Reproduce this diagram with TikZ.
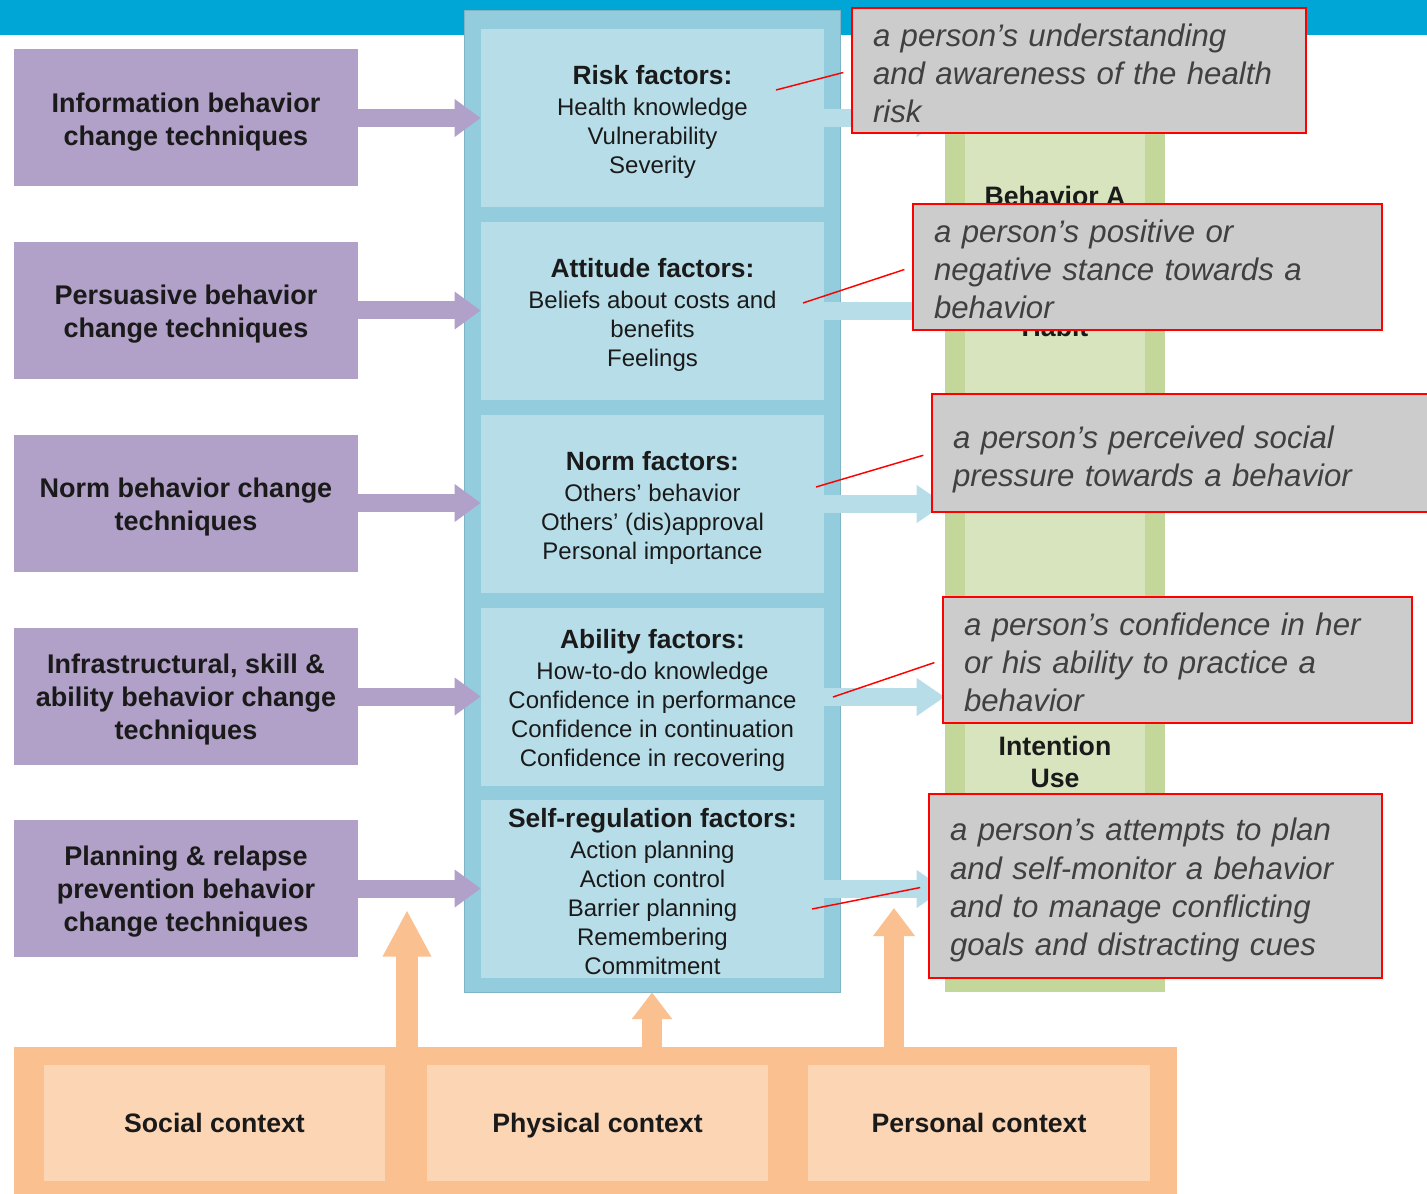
\documentclass[tikz,border=0pt]{standalone}
\usepackage{fontspec}
\setmainfont{Liberation Sans}
\usetikzlibrary{arrows.meta}
\definecolor{topbar}{HTML}{00A7D6}
\definecolor{blueout}{HTML}{93CDDD}
\definecolor{blueedge}{HTML}{7FB3C6}
\definecolor{bluein}{HTML}{B7DEE8}
\definecolor{purp}{HTML}{B1A0C7}
\definecolor{greenout}{HTML}{C4D79B}
\definecolor{greenin}{HTML}{D7E4BD}
\definecolor{orout}{HTML}{FAC090}
\definecolor{orin}{HTML}{FCD5B5}
\definecolor{greyc}{HTML}{CCCCCC}
\definecolor{redc}{HTML}{FF0000}
\definecolor{txt}{HTML}{1A1A1A}
\definecolor{gtxt}{HTML}{404040}
\begin{document}
\begin{tikzpicture}[x=0.75pt,y=-0.75pt,
  purplebox/.style={fill=purp, minimum width=258pt, minimum height=102.75pt, inner sep=0pt},
  purpletext/.style={align=center, text=txt, inner sep=0pt, font=\bfseries\fontsize{20.25}{24.75}\selectfont},
  factor/.style={fill=bluein, minimum width=257.25pt, minimum height=133.5pt, inner sep=0pt},
  factortext/.style={align=center, text=txt, inner sep=0pt, font=\fontsize{18}{21.75}\selectfont},
  ctxbox/.style={fill=orin, minimum height=87pt, inner sep=0pt, text=txt,
    text height=14pt, text depth=0.5pt, font=\bfseries\fontsize{20}{24}\selectfont},
  gtext/.style={text=txt, font=\bfseries\fontsize{20}{24}\selectfont, anchor=base},
  gbox/.style={fill=greyc, draw=redc, line width=1.5pt, inner sep=0pt},
  gboxtext/.style={inner xsep=15.75pt, inner ysep=0pt, align=left, text=gtxt,
    font=\itshape\fontsize{23.4}{28.6}\selectfont},
  parrow/.style={draw=purp, line width=13.5pt, -{Triangle[length=19.5pt,width=27pt]}},
  barrow/.style={draw=bluein, line width=13.5pt, -{Triangle[length=21pt,width=27pt]}},
  redline/.style={draw=redc, line width=1.1pt, shorten >=6pt},
]
\useasboundingbox (0,0) rectangle (1427,1194);
\fill[white] (0,0) rectangle (1427,1194);
% top bar
\node[fill=topbar, minimum width=1070.25pt, minimum height=26.25pt, inner sep=0pt, anchor=north west] (bar) at (0,0) {};

% green column
\node[fill=greenout, minimum width=165pt, minimum height=736.5pt, inner sep=0pt] (gcol) at (1055,501) {};
\node[fill=greenin, minimum width=135pt, minimum height=711.75pt, inner sep=0pt] (gin) at (1055,503.5) {};
\node[gtext] (gA) at (1055,206) {Behavior A};
\node[gtext] (gH) at (1055,337) {Habit};
\node[gtext] (gI) at (1055,755) {Intention};
\node[gtext] (gU) at (1055,787) {Use};

% blue column
\node[fill=blueout, draw=blueedge, line width=0.6pt, minimum width=282pt, minimum height=736.5pt, inner sep=0pt] (bcol) at (652,501) {};
\node[factor] (f1) at (652.5,118) {};
\node[factor] (f2) at (652.5,311) {};
\node[factor] (f3) at (652.5,504) {};
\node[factor] (f4) at (652.5,697) {};
\node[factor] (f5) at (652.5,889) {};
\node[factortext] (f1t) at (652.5,121.5) {{\bfseries\fontsize{19.8}{23}\selectfont Risk factors:}\\[1.5pt]Health knowledge\\Vulnerability\\Severity};
\node[factortext] (f2t) at (652.5,314.5) {{\bfseries\fontsize{19.8}{23}\selectfont Attitude factors:}\\[1.5pt]Beliefs about costs and\\benefits\\Feelings};
\node[factortext] (f3t) at (652.5,507.5) {{\bfseries\fontsize{19.8}{23}\selectfont Norm factors:}\\[1.5pt]Others' behavior\\Others' (dis)approval\\Personal importance};
\node[factortext] (f4t) at (652.5,700) {{\bfseries\fontsize{19.8}{23}\selectfont Ability factors:}\\[1.5pt]How-to-do knowledge\\Confidence in performance\\Confidence in continuation\\Confidence in recovering};
\node[factortext] (f5t) at (652.5,892) {{\bfseries\fontsize{19.8}{23}\selectfont Self-regulation factors:}\\[1.5pt]Action planning\\Action control\\Barrier planning\\Remembering\\Commitment};

% blue arrows to green column
\foreach \f in {f1,f2,f3,f4,f5}
  \draw[barrow] (\f.east) -- (\f.east -| gcol.west);

% purple boxes
\node[purplebox] (t1) at (186,118) {};
\node[purplebox] (t2) at (186,310.5) {};
\node[purplebox] (t3) at (186,503) {};
\node[purplebox] (t4) at (186,696.5) {};
\node[purplebox] (t5) at (186,888.5) {};
\node[purpletext] (t1t) at (186,122) {Information behavior\\change techniques};
\node[purpletext] (t2t) at (186,314.5) {Persuasive behavior\\change techniques};
\node[purpletext] (t3t) at (186,507) {Norm behavior change\\techniques};
\node[purpletext] (t4t) at (186,699.5) {Infrastructural, skill \&\\ability behavior change\\techniques};
\node[purpletext] (t5t) at (186,892) {Planning \& relapse\\prevention behavior\\change techniques};
\draw[parrow] (t1.east) -- (t1.east -| f1.west);
\draw[parrow] (t2.east) -- (t2.east -| f2.west);
\draw[parrow] (t3.east) -- (t3.east -| f3.west);
\draw[parrow] (t4.east) -- (t4.east -| f4.west);
\draw[parrow] (t5.east) -- (t5.east -| f5.west);

% context band
\node[fill=orout, minimum width=872.25pt, minimum height=114.75pt, inner sep=0pt] (ctx) at (595.5,1123.5) {};
\node[ctxbox, minimum width=255.75pt] (social) at (214.5,1123) {Social context};
\node[ctxbox, minimum width=255.75pt] (physical) at (597.5,1123) {Physical context};
\node[ctxbox, minimum width=256.5pt] (personal) at (979,1123) {Personal context};
\coordinate (u1) at (407,910);
\coordinate (u3) at (894,908);
\draw[draw=orout, line width=16.5pt, -{Triangle[length=35pt,width=34pt]}] (ctx.north -| u1) -- (u1);
\draw[draw=orout, line width=14.5pt, -{Triangle[length=20pt,width=29pt]}] (ctx.north -| bcol.south) -- (bcol.south);
\draw[draw=orout, line width=15pt, -{Triangle[length=21pt,width=30pt]}] (ctx.north -| u3) -- (u3);

% grey annotation boxes
\node[gbox, minimum width=340.5pt, minimum height=93.75pt] (g1) at (1079,70.5) {};
\node[gbox, minimum width=351.75pt, minimum height=94.5pt] (g2) at (1147.5,267) {};
\node[gbox, minimum width=381pt, minimum height=88.5pt] (g3) at (1186,453) {};
\node[gbox, minimum width=351.75pt, minimum height=94.5pt] (g4) at (1177.5,660) {};
\node[gbox, minimum width=339.75pt, minimum height=138pt] (g5) at (1155.5,886) {};
\node[gboxtext, text width=309pt] (g1t) at (1079,73)
  {a person’s understanding\\and awareness of the health\\risk};
\node[gboxtext, text width=320.25pt] (g2t) at (1147.5,269.5)
  {a person’s positive or\\negative stance towards a\\behavior};
\node[gboxtext, text width=349.5pt] (g3t) at (1186,459)
  {a person’s perceived social\\pressure towards a behavior};
\node[gboxtext, text width=320.25pt] (g4t) at (1177.5,662.5)
  {a person’s confidence in her\\or his ability to practice a\\behavior};
\node[gboxtext, text width=308.25pt] (g5t) at (1155.5,890)
  {a person’s attempts to plan\\and self-monitor a behavior\\and to manage conflicting\\goals and distracting cues};

% red pointer lines
\coordinate (r1) at (776,90);
\coordinate (r2) at (803,303);
\coordinate (r3) at (816,487);
\coordinate (r4) at (833,697);
\coordinate (r5) at (812,909);
\draw[redline] (r1) -- (g1.west);
\draw[redline] (r2) -- (g2.west);
\draw[redline] (r3) -- (g3.west);
\draw[redline] (r4) -- (g4.west);
\draw[redline] (r5) -- (g5.west);
\end{tikzpicture}
\end{document}
